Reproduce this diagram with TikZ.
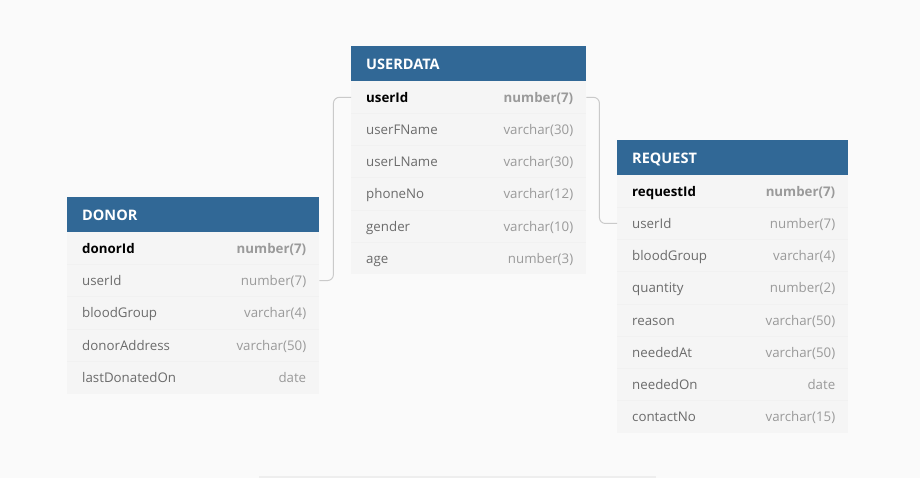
\documentclass[tikz,border=0pt]{standalone}
\usepackage{fontspec}
\setmainfont{Open Sans}
\definecolor{bg}{HTML}{FAFAFA}
\definecolor{hdr}{HTML}{316896}
\definecolor{bodyc}{HTML}{F5F5F5}
\definecolor{sepc}{HTML}{F1F1F1}
\definecolor{barc}{HTML}{EEEEEE}
\definecolor{namec}{HTML}{6B6B6B}
\definecolor{typec}{HTML}{9A9A9A}
\definecolor{conn}{HTML}{CACACA}
\tikzset{
  hdrbox/.style={fill=hdr, draw=none, anchor=north west, minimum height=35pt, inner sep=0pt},
  rowbox/.style={fill=bodyc, draw=none, anchor=north west, minimum height=32.2pt, inner sep=0pt},
  hdrtext/.style={text=white, font=\fontsize{14.5}{16}\selectfont\bfseries, anchor=west, inner sep=0pt, text height=10.5pt, text depth=0pt, yshift=-0.5pt},
  nametext/.style={text=namec, font=\fontsize{13.3}{15}\selectfont, anchor=west, inner sep=0pt, text height=9.8pt, text depth=2.8pt, yshift=-1.5pt},
  typetext/.style={text=typec, font=\fontsize{13.3}{15}\selectfont, anchor=east, inner sep=0pt, text height=9.8pt, text depth=2.8pt, yshift=-1.5pt},
  keyname/.style={nametext, text=black, font=\fontsize{13.3}{15}\selectfont\bfseries},
  keytype/.style={typetext, font=\fontsize{13.3}{15}\selectfont\bfseries},
  sepline/.style={draw=sepc, line width=0.5pt},
  connline/.style={draw=conn, line width=1pt, rounded corners=6pt},
}
\begin{document}
\begin{tikzpicture}[x=1pt,y=-1pt]
\useasboundingbox (0,0) rectangle (920,478);
\fill[bg] (0,0) rectangle (920,478);
\fill[barc] (259,475.5) rectangle (656,478);

% ---------- USERDATA ----------
\node[hdrbox, minimum width=235pt] (u) at (351,46) {};
\node[hdrtext] (u-title) at ([xshift=15pt]u.west) {USERDATA};
\node[rowbox, minimum width=235pt] (u-userId) at (351,81) {};
\node[keyname] (u-userId-n) at ([xshift=15pt]u-userId.west) {userId};
\node[keytype] (u-userId-t) at ([xshift=-13pt]u-userId.east) {number(7)};
\foreach \n/\t [count=\i from 1] in {userFName/varchar(30),userLName/varchar(30),phoneNo/varchar(12),gender/varchar(10),age/number(3)} {
  \node[rowbox, minimum width=235pt] (u-\n) at (351,81+\i*32.2) {};
  \draw[sepline] (u-\n.north west) -- (u-\n.north east);
  \node[nametext] (u-\n-n) at ([xshift=15pt]u-\n.west) {\n};
  \node[typetext] (u-\n-t) at ([xshift=-13pt]u-\n.east) {\t};
}

% ---------- DONOR ----------
\node[hdrbox, minimum width=252pt] (d) at (67,197) {};
\node[hdrtext] (d-title) at ([xshift=15pt]d.west) {DONOR};
\node[rowbox, minimum width=252pt] (d-donorId) at (67,232) {};
\node[keyname] (d-donorId-n) at ([xshift=15pt]d-donorId.west) {donorId};
\node[keytype] (d-donorId-t) at ([xshift=-13pt]d-donorId.east) {number(7)};
\foreach \n/\t [count=\i from 1] in {userId/number(7),bloodGroup/varchar(4),donorAddress/varchar(50),lastDonatedOn/date} {
  \node[rowbox, minimum width=252pt] (d-\n) at (67,232+\i*32.3) {};
  \draw[sepline] (d-\n.north west) -- (d-\n.north east);
  \node[nametext] (d-\n-n) at ([xshift=15pt]d-\n.west) {\n};
  \node[typetext] (d-\n-t) at ([xshift=-13pt]d-\n.east) {\t};
}

% ---------- REQUEST ----------
\node[hdrbox, minimum width=231pt] (r) at (617,140) {};
\node[hdrtext] (r-title) at ([xshift=15pt]r.west) {REQUEST};
\node[rowbox, minimum width=231pt] (r-requestId) at (617,175) {};
\node[keyname] (r-requestId-n) at ([xshift=15pt]r-requestId.west) {requestId};
\node[keytype] (r-requestId-t) at ([xshift=-13pt]r-requestId.east) {number(7)};
\foreach \n/\t [count=\i from 1] in {userId/number(7),bloodGroup/varchar(4),quantity/number(2),reason/varchar(50),neededAt/varchar(50),neededOn/date,contactNo/varchar(15)} {
  \node[rowbox, minimum width=231pt] (r-\n) at (617,175+\i*32.2) {};
  \draw[sepline] (r-\n.north west) -- (r-\n.north east);
  \node[nametext] (r-\n-n) at ([xshift=15pt]r-\n.west) {\n};
  \node[typetext] (r-\n-t) at ([xshift=-13pt]r-\n.east) {\t};
}

% ---------- connectors ----------
\draw[connline] (d-userId.east) -- ++(14,0) |- (u-userId.west);
\draw[connline] (u-userId.east) -- ++(13,0) |- (r-userId.west);
\end{tikzpicture}
\end{document}
